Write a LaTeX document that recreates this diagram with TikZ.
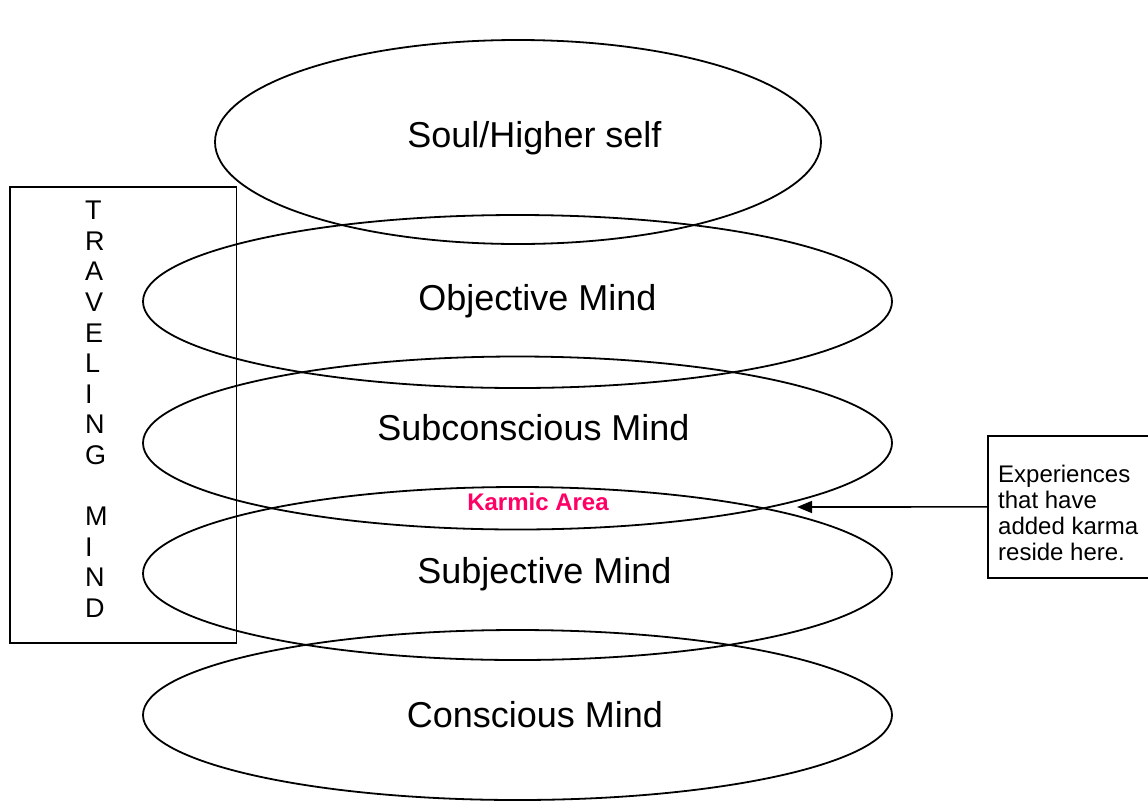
\documentclass[tikz,border=0pt]{standalone}
\usepackage{fontspec}
\setmainfont{Liberation Sans}
\definecolor{KarmicPink}{HTML}{FF0066}
\usetikzlibrary{shapes.geometric, arrows.meta, positioning}

\begin{document}
\begin{tikzpicture}[
        x=1pt, y=-1pt,
        layer/.style={draw=black, ellipse, line width=1.8pt, minimum width=749pt, minimum height=173pt, inner sep=0pt},
        lbl/.style={anchor=base, inner sep=0pt, font=\fontsize{36}{43}\selectfont},
        box/.style={draw=black, line width=1.8pt, inner sep=0pt},
        arr/.style={-{Triangle[length=15pt, width=12pt]}, line width=1.6pt}
    ]
        \useasboundingbox (0,0) rectangle (1148,801);

        \node[layer, minimum width=606pt, minimum height=204pt] (soul) at (518,142) {};
        \node[layer] (objective) at (517.5,301.5) {};
        \node[layer] (subconscious) at (517.5,443) {};
        \node[layer] (subjective) at (517.5,573.5) {};
        \node[layer, minimum height=170pt] (conscious) at (517.5,715) {};

        \node[lbl] (soulText) at (534.5,147) {Soul/Higher self};
        \node[lbl] (objectiveText) at (537.5,310) {Objective Mind};
        \node[lbl] (subconsciousText) at (533.5,440) {Subconscious Mind};
        \node[lbl] (subjectiveText) at (544.5,583) {Subjective Mind};
        \node[lbl] (consciousText) at (535,727) {Conscious Mind};

        \node[inner sep=0pt, text=KarmicPink, font=\bfseries\fontsize{24}{28}\selectfont] (karmic) at (538,502) {Karmic Area};

        \node[box, minimum width=226.5pt, minimum height=456pt] (travel) at (123.25,415) {};
        \node[anchor=north west, inner sep=0pt, align=left, font=\fontsize{27}{30.6}\selectfont] (travelText) at (85,201)
            {T\\R\\A\\V\\E\\L\\I\\N\\G\\~\\M\\I\\N\\D};

        \node[box, anchor=north west, minimum width=164pt, minimum height=142pt] (note) at (987,435) {};
        \node[anchor=north west, inner sep=0pt, align=left, font=\fontsize{24}{26}\selectfont] (noteText) at (998,465)
            {Experiences\\that have\\added karma\\reside here.};

        \coordinate (karmaTip) at (797,507);
        \draw[arr] (note.west) -- (karmaTip);
    \end{tikzpicture}
\end{document}
